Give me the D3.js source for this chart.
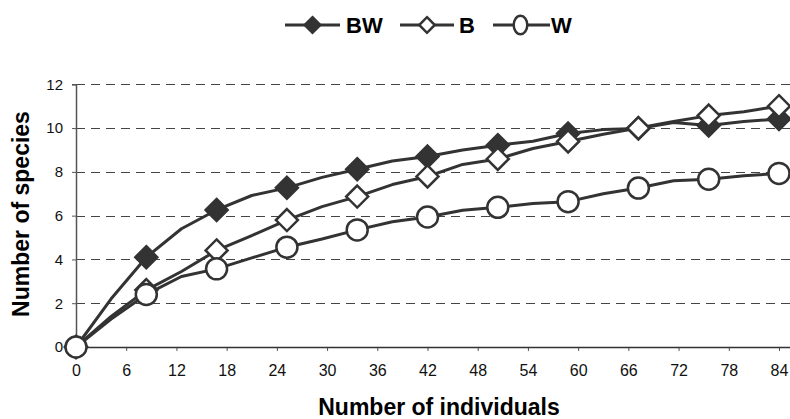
<!DOCTYPE html>
<html>
<head>
<meta charset="utf-8">
<script src="https://cdn.jsdelivr.net/npm/d3@7/dist/d3.min.js"></script>
<style>
  html, body { margin: 0; padding: 0; background: #fff; }
  svg { display: block; font-family: "Liberation Sans", Arial, sans-serif; }
</style>
</head>
<body>
<svg id="chart" width="790" height="419"></svg>
<script>
// ---- data ----
const individuals = [0, 4.2, 8.4, 12.6, 16.8, 21, 25.2, 29.4, 33.6, 37.8, 42, 46.2, 50.4, 54.6, 58.8, 63, 67.2, 71.4, 75.6, 79.8, 84];
const seriesNames = ["BW", "B", "W"];
const bwValues = [0, 2.2, 4.1, 5.4, 6.26, 6.92, 7.27, 7.75, 8.12, 8.5, 8.7, 9.0, 9.22, 9.4, 9.75, 9.93, 9.98, 10.25, 10.12, 10.3, 10.42];
const bValues  = [0, 1.4, 2.6, 3.45, 4.41, 5.09, 5.8, 6.41, 6.87, 7.42, 7.79, 8.34, 8.59, 9.07, 9.39, 9.72, 10.0, 10.3, 10.57, 10.75, 11.0];
const wValues  = [0, 1.28, 2.4, 3.22, 3.57, 4.07, 4.56, 4.93, 5.35, 5.72, 5.94, 6.25, 6.38, 6.56, 6.64, 7.0, 7.26, 7.59, 7.66, 7.82, 7.93];
const xTicks = [0, 6, 12, 18, 24, 30, 36, 42, 48, 54, 60, 66, 72, 78, 84];
const yTicks = [0, 2, 4, 6, 8, 10, 12];
const xTitle = "Number of individuals";
const yTitle = "Number of species";

const INK = "#333333";
const svg = d3.select("#chart");

const x = d3.scaleLinear().domain([0, 84]).range([76, 779]);
const y = d3.scaleLinear().domain([0, 12]).range([347, 84.3]);
const plotRight = 790;

// gridlines
svg.append("g").selectAll("line")
  .data(yTicks.filter(d => d > 0))
  .join("line")
  .attr("x1", x(0)).attr("x2", plotRight)
  .attr("y1", d => Math.round(y(d)) + 0.5).attr("y2", d => Math.round(y(d)) + 0.5)
  .attr("stroke", "#444").attr("stroke-width", 1)
  .attr("stroke-dasharray", "9,6");

// y axis
const yAxis = d3.axisLeft(y).tickValues(yTicks).tickSize(4).tickPadding(9).tickFormat(d3.format("d"));
const gy = svg.append("g").attr("transform", `translate(${x(0)},0)`).call(yAxis);
gy.select(".domain").attr("stroke", "#555").attr("stroke-width", 1.5);
gy.selectAll(".tick line").attr("stroke", "#555");
gy.selectAll(".tick text").attr("font-size", 15).attr("fill", "#111")
  .attr("font-family", "Liberation Sans, Arial, sans-serif");

// x axis
const xAxis = d3.axisBottom(x).tickValues(xTicks).tickSize(4).tickPadding(14).tickFormat(d3.format("d"));
const gx = svg.append("g").attr("transform", `translate(0,${y(0)})`).call(xAxis);
gx.select(".domain").remove();
gx.append("line").attr("x1", x(0)).attr("x2", plotRight).attr("y1", 0.5).attr("y2", 0.5)
  .attr("stroke", "#333").attr("stroke-width", 1.5);
gx.selectAll(".tick line").attr("stroke", "#555");
gx.selectAll(".tick text").attr("font-size", 16).attr("fill", "#111")
  .attr("font-family", "Liberation Sans, Arial, sans-serif");

// titles
svg.append("text").attr("x", 439).attr("y", 415).attr("text-anchor", "middle")
  .attr("font-size", 23).attr("font-weight", "bold").attr("fill", "#000").text(xTitle);
svg.append("text").attr("transform", "translate(29,214) rotate(-90)").attr("text-anchor", "middle")
  .attr("font-size", 23).attr("font-weight", "bold").attr("fill", "#000").text(yTitle);

// series
const seriesData = [
  { name: seriesNames[0], values: bwValues, marker: "diamond", fill: INK },
  { name: seriesNames[1], values: bValues, marker: "diamond", fill: "#fff" },
  { name: seriesNames[2], values: wValues, marker: "circle", fill: "#fff" }
];

const line = d3.line().x(d => x(d[0])).y(d => y(d[1]));

function drawMarker(g, type, cx, cy, fill, size) {
  if (type === "diamond") {
    const h = size.d;
    g.append("path")
      .attr("d", `M${cx},${cy - h}L${cx + h},${cy}L${cx},${cy + h}L${cx - h},${cy}Z`)
      .attr("fill", fill).attr("stroke", INK).attr("stroke-width", 2.5).attr("stroke-linejoin", "miter");
  } else {
    g.append("ellipse").attr("cx", cx).attr("cy", cy).attr("rx", size.rx).attr("ry", size.ry)
      .attr("fill", fill).attr("stroke", INK).attr("stroke-width", 2.5);
  }
}

// each series: line then markers, later series drawn on top
seriesData.forEach(s => {
  const g = svg.append("g");
  const pts = individuals.map((xv, k) => [xv, s.values[k]]);
  g.append("path").datum(pts).attr("d", line)
    .attr("fill", "none").attr("stroke", INK).attr("stroke-width", 3).attr("stroke-linejoin", "round");
  individuals.forEach((xv, k) => {
    if (k % 2 !== 0) return;
    drawMarker(g, s.marker, x(xv), y(s.values[k]), s.fill, { d: 11, rx: 10.5, ry: 10.5 });
  });
});

// legend
const legendItems = [
  { name: seriesNames[0], x1: 285, x2: 340, mx: 312.5, tx: 346, marker: "diamond", fill: INK },
  { name: seriesNames[1], x1: 400, x2: 454, mx: 427, tx: 459, marker: "diamond", fill: "#fff" },
  { name: seriesNames[2], x1: 493, x2: 550, mx: 520.5, tx: 551, marker: "circle", fill: "#fff" }
];
const lg = svg.append("g");
legendItems.forEach(it => {
  lg.append("line").attr("x1", it.x1).attr("x2", it.x2).attr("y1", 25).attr("y2", 25)
    .attr("stroke", INK).attr("stroke-width", 3);
  drawMarker(lg, it.marker, it.mx, 25, it.fill, { d: 7.8, rx: 6.8, ry: 9.2 });
  lg.append("text").attr("x", it.tx).attr("y", 33).attr("font-size", 22).attr("font-weight", "bold")
    .attr("fill", "#000").text(it.name);
});
</script>
</body>
</html>
